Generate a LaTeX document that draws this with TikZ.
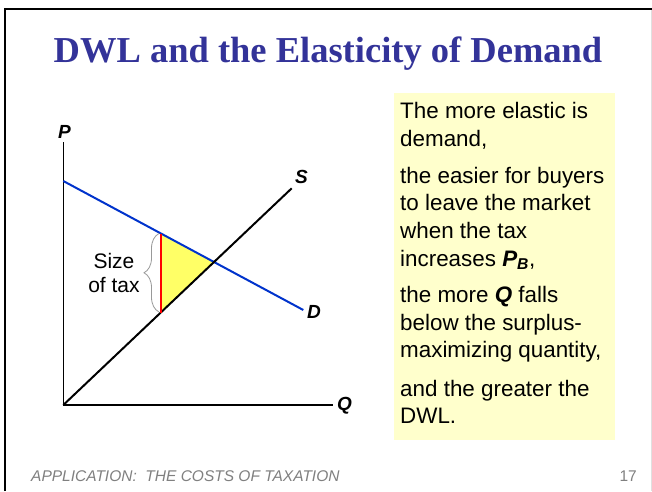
\documentclass[tikz,border=0pt]{standalone}
\usepackage{fontspec}
\setmainfont{Liberation Sans}
\newfontfamily\titlefont{Liberation Serif}
\usetikzlibrary{decorations.pathreplacing}
\definecolor{titleblue}{HTML}{333399}
\definecolor{dblue}{HTML}{0033CC}
\definecolor{dwlyellow}{HTML}{FFFF66}
\definecolor{boxyellow}{HTML}{FFFFCC}
\definecolor{bracegray}{HTML}{999999}
\definecolor{footgray}{HTML}{808080}
\tikzset{
  axislbl/.style={font=\fontsize{19}{22}\selectfont\bfseries\itshape, inner sep=0pt},
  bodytxt/.style={font=\fontsize{22.4}{27.5}\selectfont, anchor=base west, inner sep=0pt},
  taxtxt/.style={font=\fontsize{21}{24.4}\selectfont, anchor=base, inner sep=0pt},
  axisline/.style={line width=1.3pt, black},
  curve/.style={line width=2pt},
}
\begin{document}
\begin{tikzpicture}[x=1pt,y=-1pt]
\useasboundingbox[fill=white] (0,0) rectangle (652,491);
% frame
\draw[line width=2pt, black] (5,491) -- (5,9) -- (652,9);
\draw[line width=0.8pt, black!12] (651,10) -- (651,491);
% title
\node[font=\titlefont\fontsize{36.5}{40}\selectfont\bfseries, text=titleblue, anchor=base, inner sep=0pt] (title) at (328,62) {DWL and the Elasticity of Demand};
% text box
\fill[boxyellow] (393.5,93) rectangle (614.5,440);
\node[bodytxt] (t1) at (400,118.3) {The more elastic is};
\node[bodytxt] (t2) at (400,146) {demand,};
\node[bodytxt] (t3) at (400,183.3) {the easier for buyers};
\node[bodytxt] (t4) at (400,210.7) {to leave the market};
\node[bodytxt] (t5) at (400,238.3) {when the tax};
\node[bodytxt] (t6) at (400,266) {increases \textbf{\textit{P\textsubscript{B}}},};
\node[bodytxt] (t7) at (400,302.7) {the more \textbf{\textit{Q}} falls};
\node[bodytxt] (t8) at (400,330.7) {below the surplus-};
\node[bodytxt] (t9) at (400,357.7) {maximizing quantity,};
\node[bodytxt] (t10) at (400,396.7) {and the greater the};
\node[bodytxt] (t11) at (400,423.3) {DWL.};
% graph coordinates
\coordinate (O) at (63.3,405);
\coordinate (Ptop) at (63.3,142);
\coordinate (Qend) at (333,405);
\coordinate (Dstart) at (63.3,181);
\coordinate (Dend) at (303.3,310);
\coordinate (Send) at (291.7,188.3);
\coordinate (E) at (213.3,262.2);
\coordinate (A) at (160.7,233.5);
\coordinate (B) at (160.7,312.5);
% DWL triangle
\fill[dwlyellow] (A) -- (E) -- (B) -- cycle;
% axes
\draw[axisline] (Ptop) -- (O) -- (Qend);
\node[axislbl] (P) at (64.5,132) {P};
\node[axislbl] (Q) at (344.5,405.5) {Q};
% curves
\draw[curve, dblue] (Dstart) -- (Dend);
\draw[curve, black] (O) -- (Send);
\node[axislbl] (S) at (301.5,177) {S};
\node[axislbl] (D) at (314,312) {D};
% tax wedge
\draw[curve, red] (A) -- (B);
\draw[bracegray, line width=0.8pt, decorate, decoration={brace, amplitude=15pt}] (159,312) -- (159,233.5);
\node[taxtxt] (size) at (114,268.3) {Size};
\node[taxtxt] (oftax) at (114,292.7) {of tax};
% footer
\node[font=\fontsize{15.5}{18}\selectfont\itshape, text=footgray, anchor=base west, inner sep=0pt] (foot) at (31,481.5) {APPLICATION:\ \ THE COSTS OF TAXATION};
\node[font=\fontsize{15.5}{18}\selectfont, text=footgray, anchor=base east, inner sep=0pt] (page) at (637,481.5) {17};
\end{tikzpicture}
\end{document}
